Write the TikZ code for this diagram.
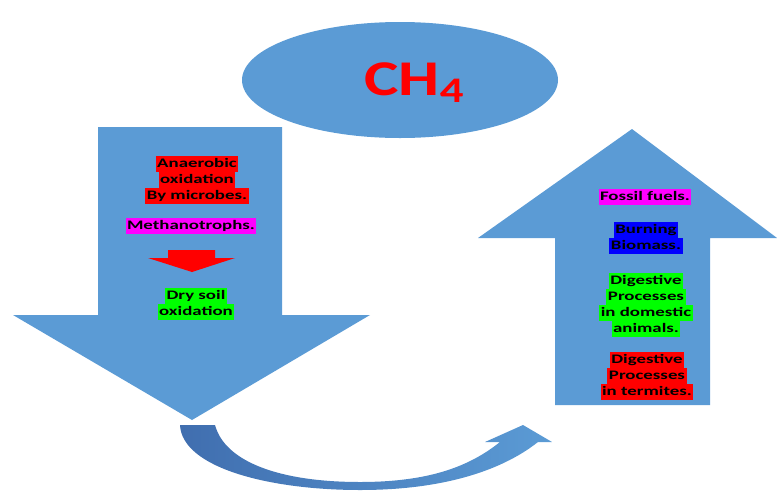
\documentclass[tikz,border=0pt]{standalone}
\usepackage{fontspec}
\usepackage{xcolor}
\usepackage{tikz}
\usetikzlibrary{shapes.geometric,positioning,calc}

\newfontfamily\lblfont{Carlito}[FakeStretch=1.45]
\newfontfamily\chfont{Carlito}[FakeStretch=1.3]
\definecolor{arrowblue}{RGB}{91,155,213}
\definecolor{curvedark}{RGB}{64,110,175}
\definecolor{hlred}{RGB}{255,0,0}
\definecolor{hlpink}{RGB}{255,0,255}
\definecolor{hlblue}{RGB}{0,0,255}
\definecolor{hlgreen}{RGB}{0,255,0}
\setlength{\fboxsep}{0pt}
\newcommand{\hlbox}[2]{\colorbox{#1}{\strut\hspace{1.5pt}#2\hspace{1.5pt}}}

\begin{document}
\begin{tikzpicture}[
    x=1pt, y=-1pt,
    bigarrow/.style={fill=arrowblue},
    cloud/.style={ellipse, fill=arrowblue, minimum width=316pt, minimum height=116pt, inner sep=0pt},
    source/.style={inner sep=0pt, align=center, text=black, font=\lblfont\bfseries\fontsize{13}{16}\selectfont}
]
    \useasboundingbox (0,0) rectangle (777,491);

    % Methane cloud
    \node[cloud] (methane) at (400,80) {};
    \node[anchor=base, text=red, font=\chfont\bfseries\fontsize{50}{50}\selectfont] (ch4) at (414,95)
        {CH\raisebox{-7pt}{\fontsize{36}{36}\selectfont 4}};

    % Sink arrow (down, left)
    \fill[bigarrow] (98,127) -- (282,127) -- (282,315) -- (370,315) -- (192,420) -- (13,315) -- (98,315) -- cycle;

    % Source arrow (up, right)
    \fill[bigarrow] (555,405) -- (555,238) -- (478,238) -- (632,129) -- (777,238) -- (710,238) -- (710,405) -- cycle;

    % Curved arrow underneath
    \shade[left color=curvedark, right color=arrowblue]
        (180,425) .. controls (182,468) and (270,490) .. (360,490)
        .. controls (440,490) and (500,472) .. (538,442)
        -- (552,442) -- (523,425) -- (485,442) -- (500,442)
        .. controls (470,466) and (430,482) .. (360,482)
        .. controls (280,482) and (225,462) .. (215,425) -- cycle;

    % Sinks
    \node[source] (anaerobic) at (197,180) {\hlbox{hlred}{Anaerobic}\\\hlbox{hlred}{oxidation}\\\hlbox{hlred}{By microbes.}};
    \node[source] (methano) at (191,226) {\hlbox{hlpink}{Methanotrophs.}};
    \fill[hlred] (168,250) -- (215,250) -- (215,258) -- (235,258) -- (192,272) -- (148,258) -- (168,258) -- cycle;
    \node[source] (drysoil) at (196,304) {\hlbox{hlgreen}{Dry soil}\\\hlbox{hlgreen}{oxidation}};

    % Sources
    \node[source] (fossil) at (645,197) {\hlbox{hlpink}{Fossil fuels.}};
    \node[source] (biomass) at (646,238) {\hlbox{hlblue}{Burning}\\\hlbox{hlblue}{Biomass.}};
    \node[source] (domestic) at (646,305) {\hlbox{hlgreen}{Digestive}\\\hlbox{hlgreen}{Processes}\\\hlbox{hlgreen}{in domestic}\\\hlbox{hlgreen}{animals.}};
    \node[source] (termites) at (647,376) {\hlbox{hlred}{Digestive}\\\hlbox{hlred}{Processes}\\\hlbox{hlred}{in termites.}};
\end{tikzpicture}
\end{document}
